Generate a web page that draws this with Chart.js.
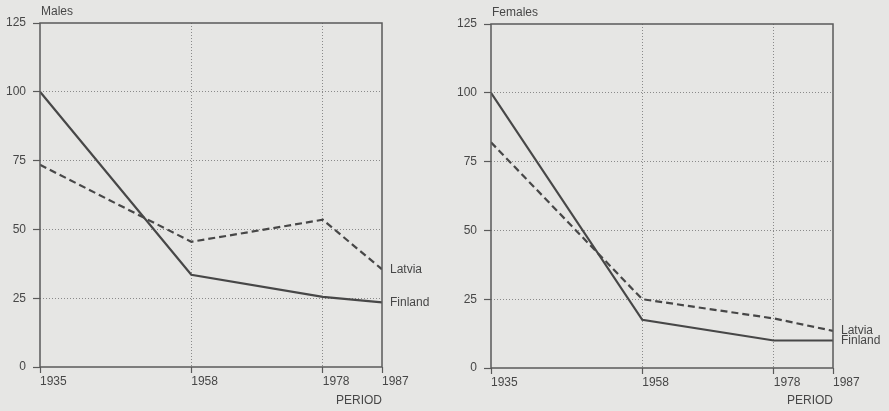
<!DOCTYPE html>
<html>
<head>
<meta charset="utf-8">
<script src="https://cdn.jsdelivr.net/npm/chart.js@4/dist/chart.umd.min.js"></script>
<style>
  html, body { margin: 0; padding: 0; background: #e6e6e4; }
  #wrap { position: relative; width: 889px; height: 411px; overflow: hidden; }
  .panel { position: absolute; top: 0; height: 411px; }
</style>
</head>
<body>
<div id="wrap">
  <div class="panel" style="left:0;width:440px"><canvas id="malesChart"></canvas></div>
  <div class="panel" style="left:440px;width:449px"><canvas id="femalesChart"></canvas></div>
</div>
<script>
// periods on the x axis
const years = [1935, 1958, 1978, 1987];
const yTicks = [0, 25, 50, 75, 100, 125];

// index values (1935 Finland = 100)
const malesFinland = [100, 33.5, 25.5, 23.5];
const malesLatvia = [73.5, 45.5, 53.5, 35.5];
const femalesFinland = [100, 17.5, 10, 10];
const femalesLatvia = [82, 25, 18, 13.5];

const ink = '#474747';
const fontFamily = '"Liberation Sans", Arial, sans-serif';
const fontSize = 12;

// frame, panel title and end labels
const decorPlugin = {
  id: 'decor',
  afterDraw(chart, args, opts) {
    const { ctx, chartArea: a } = chart;
    ctx.save();
    ctx.strokeStyle = '#5a5a5a';
    ctx.lineWidth = 1.5;
    ctx.strokeRect(a.left, a.top, a.right - a.left, a.bottom - a.top);

    ctx.fillStyle = ink;
    ctx.font = fontSize + 'px ' + fontFamily;
    ctx.textBaseline = 'middle';
    ctx.textAlign = 'left';
    ctx.fillText(opts.title, a.left + 1, a.top - 11);

    chart.data.datasets.forEach((ds, i) => {
      const meta = chart.getDatasetMeta(i);
      const last = meta.data[meta.data.length - 1];
      ctx.fillText(ds.label, a.right + 8, last.y + (ds.labelShift || 0));
    });
    ctx.restore();
  }
};

function makeChart(id, title, finland, latvia, pad, yWidth, xHeight, shifts) {
  const ctx = document.getElementById(id).getContext('2d');
  return new Chart(ctx, {
    type: 'line',
    data: {
      datasets: [
        {
          label: 'Latvia',
          data: years.map((y, i) => ({ x: y, y: latvia[i] })),
          borderColor: ink,
          borderWidth: 2.2,
          borderDash: [7, 4],
          pointRadius: 0,
          tension: 0,
          labelShift: shifts[0]
        },
        {
          label: 'Finland',
          data: years.map((y, i) => ({ x: y, y: finland[i] })),
          borderColor: ink,
          borderWidth: 2.2,
          pointRadius: 0,
          tension: 0,
          labelShift: shifts[1]
        }
      ]
    },
    options: {
      responsive: true,
      maintainAspectRatio: false,
      animation: false,
      layout: { padding: pad },
      plugins: {
        legend: { display: false },
        tooltip: { enabled: false },
        decor: { title: title }
      },
      scales: {
        x: {
          type: 'linear',
          min: 1935,
          max: 1987,
          afterBuildTicks: s => { s.ticks = years.map(v => ({ value: v })); },
          afterFit: s => { s.height = xHeight; },
          ticks: {
            align: 'start',
            padding: 1,
            color: ink,
            font: { family: fontFamily, size: fontSize },
            callback: v => String(v)
          },
          grid: {
            color: c => (c.tick && (c.tick.value === 1958 || c.tick.value === 1978)) ? '#8a8a8a' : 'rgba(0,0,0,0)',
            tickColor: '#5a5a5a',
            tickLength: 6,
            tickWidth: 1.2,
            lineWidth: 1
          },
          border: { display: false, dash: [1, 2] },
          title: {
            display: true,
            text: 'PERIOD',
            align: 'end',
            color: ink,
            font: { family: fontFamily, size: fontSize },
            padding: { top: 0, bottom: 3 }
          }
        },
        y: {
          min: 0,
          max: 125,
          afterBuildTicks: s => { s.ticks = yTicks.map(v => ({ value: v })); },
          afterFit: s => { s.width = yWidth; },
          ticks: {
            padding: 7,
            color: ink,
            font: { family: fontFamily, size: fontSize }
          },
          grid: {
            color: c => (c.tick && c.tick.value > 0 && c.tick.value < 125) ? '#8a8a8a' : 'rgba(0,0,0,0)',
            tickColor: '#5a5a5a',
            tickLength: 7,
            tickWidth: 1.2,
            lineWidth: 1
          },
          border: { display: false, dash: [1, 2] }
        }
      }
    },
    plugins: [decorPlugin]
  });
}

makeChart('malesChart', 'Males', malesFinland, malesLatvia,
  { left: 0, top: 23, right: 58, bottom: 0 }, 40, 44, [0, 0]);
makeChart('femalesChart', 'Females', femalesFinland, femalesLatvia,
  { left: 0, top: 24, right: 56, bottom: 0 }, 51, 43, [0, 0]);
</script>
</body>
</html>
